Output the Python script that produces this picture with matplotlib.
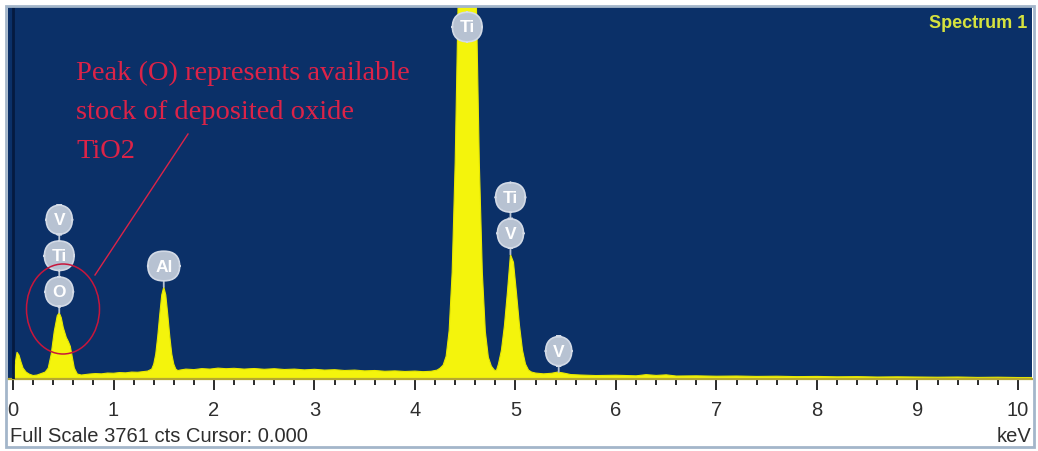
import numpy as np
import matplotlib
matplotlib.use("Agg")
import matplotlib.pyplot as plt
from matplotlib.patches import Ellipse, Rectangle
from matplotlib.lines import Line2D

# ---------------- data ----------------
full_scale_cts = 3761
cursor_kev = 0.000
spectrum_name = "Spectrum 1"

energy_kev = [
    0.00, 0.02, 0.04, 0.06, 0.08, 0.10, 0.13, 0.16, 0.20, 0.24, 0.28, 0.32,
    0.35, 0.38, 0.41, 0.44, 0.46, 0.48, 0.50, 0.53, 0.55, 0.57, 0.59, 0.61,
    0.64, 0.68, 0.72, 0.76, 0.82, 0.88, 0.94, 1.00, 1.06, 1.12, 1.18, 1.24,
    1.30, 1.34, 1.38, 1.40, 1.42, 1.44, 1.46, 1.48, 1.50, 1.52, 1.54, 1.56,
    1.58, 1.60, 1.62, 1.64, 1.66, 1.72, 1.80, 1.88, 1.96, 2.04, 2.12, 2.20,
    2.30, 2.40, 2.50, 2.60, 2.70, 2.80, 2.90, 3.00, 3.10, 3.20, 3.30, 3.40,
    3.50, 3.60, 3.70, 3.80, 3.90, 4.00, 4.08, 4.16, 4.22, 4.25, 4.28, 4.31,
    4.34, 4.37, 4.40, 4.43, 4.46, 4.49, 4.52, 4.55, 4.58, 4.61, 4.64, 4.67,
    4.70, 4.73, 4.76, 4.79, 4.81, 4.83, 4.86, 4.89, 4.92, 4.95, 4.98, 5.01,
    5.04, 5.07, 5.10, 5.13, 5.16, 5.20, 5.28, 5.36, 5.42, 5.48, 5.55, 5.65,
    5.80, 6.00, 6.20, 6.30, 6.40, 6.50, 6.60, 6.80, 7.00, 7.20, 7.40, 7.60,
    7.80, 8.00, 8.20, 8.40, 8.60, 8.80, 9.00, 9.20, 9.40, 9.60, 9.80, 10.00,
    10.14,
]
counts = [
    30, 150, 270, 240, 170, 110, 70, 50, 35, 40, 55, 70,
    110, 250, 480, 640, 670, 620, 520, 420, 380, 330, 220, 110,
    50, 40, 45, 50, 55, 52, 60, 58, 65, 62, 70, 68,
    75, 80, 100, 150, 250, 430, 650, 850, 930, 850, 650, 430,
    250, 150, 100, 85, 90, 100, 95, 105, 100, 110, 104, 108,
    100, 106, 98, 104, 96, 100, 92, 98, 90, 94, 86, 90,
    82, 86, 78, 82, 76, 80, 74, 78, 90, 110, 140, 230,
    490, 1080, 2190, 3860, 5820, 7460, 8100, 7460, 5820, 3860, 2190, 1080,
    480, 220, 130, 90, 85, 150, 290, 540, 880, 1260, 1180, 870,
    540, 290, 150, 90, 70, 60, 52, 58, 70, 60, 45, 40,
    35, 38, 32, 44, 36, 42, 30, 32, 28, 30, 26, 28,
    24, 26, 22, 24, 20, 22, 20, 18, 20, 16, 18, 15,
    15,
]

tick_values = [0, 1, 2, 3, 4, 5, 6, 7, 8, 9, 10]
tick_labels = [str(t) for t in tick_values]

# peak labels: element, energy (keV), stack level
label_elements = ["O", "Ti", "V", "Al", "Ti", "V", "Ti", "V"]
label_energies = [0.46, 0.46, 0.46, 1.50, 4.52, 4.95, 4.95, 5.43]
label_levels = [0, 1, 2, 0, 0, 0, 1, 0]

note_text = "Peak (O) represents available\nstock of deposited oxide\nTiO2"

# ---------------- style ----------------
W, H = 1038, 452
BG = "#0b3068"
YELLOW = "#f4f40c"
RED = "#dc2348"
BADGE = "#b7c2d2"

plt.rcParams['font.family'] = ['Liberation Sans', 'DejaVu Sans']

fig = plt.figure(figsize=(W / 100, H / 100), dpi=100)
fig.patch.set_facecolor("white")


def fx(px):
    return px / W


def fy(py):
    return 1 - py / H


ax_l, ax_r, ax_t, ax_b = 8, 1032, 8, 380
ax = fig.add_axes([fx(ax_l), fy(ax_b), fx(ax_r - ax_l), (ax_b - ax_t) / H])
ax.set_facecolor(BG)

E = np.array(energy_kev)
C = np.array(counts)
ax.fill_between(E, 0, C, color=YELLOW, lw=0, zorder=2)
ax.plot(E, C, color="#e8e800", lw=0.8, zorder=2)
ax.axvline(0, color="#051a40", lw=2, zorder=3)

ax.set_xlim(-0.05, 10.14)
ax.set_ylim(0, full_scale_cts)
ax.set_yticks([])
ax.set_xticks(tick_values)
ax.set_xticklabels(tick_labels)
ax.set_xticks(np.arange(0, 10.01, 0.2), minor=True)
ax.tick_params(axis="x", which="major", length=8, width=1.3, color="#1a1a1a",
               labelsize=14.5, labelcolor="#2e2e2e", pad=7)
ax.tick_params(axis="x", which="minor", length=4, width=1.3, color="#1a1a1a")
for s in ["top", "right", "left"]:
    ax.spines[s].set_visible(False)
ax.spines["bottom"].set_color("#b5a832")
ax.spines["bottom"].set_linewidth(1.6)

# peak badges
px2pt = 0.72
for el, en, lv in zip(label_elements, label_energies, label_levels):
    win = (E >= en - 0.03) & (E <= en + 0.03)
    peak = C[win].max()
    if peak >= full_scale_cts:
        y = full_scale_cts
        off = -20 * px2pt
    else:
        y = peak
        off = (21 + 36 * lv) * px2pt
    top = lv == max(l for e2, l in zip(label_energies, label_levels) if e2 == en)
    ax.annotate(el, xy=(en, y), xytext=(0, off), textcoords="offset points",
                ha="center", va="center", fontsize=12.5, color="white",
                fontweight="bold",
                bbox=dict(boxstyle="round,pad=0.42,rounding_size=0.9",
                          fc=BADGE, ec="#d3dae6", lw=1.2),
                arrowprops=dict(arrowstyle="-", color=BADGE, lw=1.3,
                                shrinkA=0, shrinkB=0) if top and off > 0 else None,
                zorder=6 if not top else 5, annotation_clip=False)

# spectrum name
fig.text(fx(1027), fy(24), spectrum_name, ha="right", va="center",
         fontsize=13, fontweight="bold", color="#d6e23e")

# red annotation
fig.text(fx(76), fy(61), note_text, ha="left", va="top", fontsize=20.5,
         family="Liberation Serif", color=RED, linespacing=1.72)
fig.add_artist(Line2D([fx(188), fx(95)], [fy(135), fy(276)], color=RED, lw=1,
                      transform=fig.transFigure))
fig.add_artist(Ellipse((fx(63), fy(310)), fx(73), 90 / H, fill=False,
                       ec="#c8163c", lw=1.1, transform=fig.transFigure))

# bottom texts
fig.text(fx(10), fy(437), "Full Scale %d cts Cursor: %.3f" % (full_scale_cts, cursor_kev),
         ha="left", va="center", fontsize=14.5, color="#2e2e2e")
fig.text(fx(1031), fy(437), "keV", ha="right", va="center", fontsize=14.5,
         color="#2e2e2e")

# outer frame
fig.add_artist(Rectangle((fx(6), fy(448)), fx(1028), (448 - 7) / H, fill=False,
                         ec="#a3b6ca", lw=2, transform=fig.transFigure))

fig.savefig("out.png", dpi=100)
